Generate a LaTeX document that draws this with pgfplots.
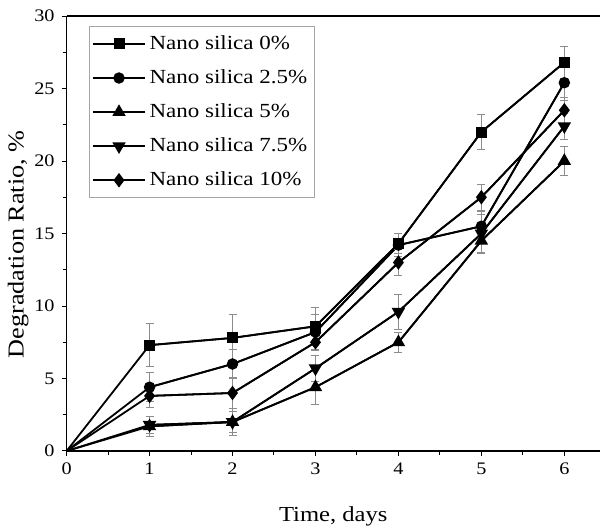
\documentclass[border=0pt]{standalone}
\usepackage{fontspec}
\setmainfont{Liberation Serif}[FakeStretch=1.15]
\usepackage{pgfplots}
\usepackage{pgfplotstable}
\pgfplotsset{compat=1.18}

% day, ratio (%), error
\pgfplotstableread{
x y e
0 0 0
1 7.3 1.5
2 7.8 1.6
3 8.6 1.3
4 14.3 0.7
5 22.0 1.2
6 26.8 1.1
}\nsA
\pgfplotstableread{
x y e
0 0 0
1 4.4 1.0
2 6.0 1.0
3 8.2 1.2
4 14.2 0.8
5 15.5 1.0
6 25.4 1.2
}\nsB
\pgfplotstableread{
x y e
0 0 0
1 1.7 0.7
2 2.0 0.9
3 4.4 1.2
4 7.5 0.7
5 14.5 0.9
6 20.0 1.0
}\nsC
\pgfplotstableread{
x y e
0 0 0
1 1.8 0.6
2 2.0 0.7
3 5.7 0.9
4 9.6 1.2
5 15.0 1.3
6 22.4 0.9
}\nsD
\pgfplotstableread{
x y e
0 0 0
1 3.8 0.8
2 4.0 1.1
3 7.5 0.6
4 13.0 0.9
5 17.5 0.9
6 23.5 0.9
}\nsE

\begin{document}
\begin{tikzpicture}
\useasboundingbox (-33.3pt,-39.5pt) rectangle (266.7pt,225.5pt);
\begin{axis}[
scale only axis,
width=266.7pt,
height=217.5pt,
xmin=0, xmax=6.43,
ymin=0, ymax=30,
axis lines=left,
axis line style={-, line width=0.6pt},
extra description/.code={\draw[line width=0.6pt] (axis description cs:0,1) -- (axis description cs:1,1);},
xtick={0,1,2,3,4,5,6},
ytick={0,5,10,15,20,25,30},
minor x tick num=1,
minor y tick num=1,
tick align=outside,
major tick length=2.5pt,
minor tick length=2pt,
tick style={black, line width=0.5pt},
/pgf/number format/assume math mode=true,
ticklabel style={font=\fontsize{8.8}{10}\selectfont},
xlabel={Time, days},
ylabel={Degradation Ratio, \%},
xlabel style={font=\fontsize{10.7}{12}\selectfont, at={(axis description cs:0.5,-0.161)}, anchor=base, inner sep=0pt},
ylabel style={font=\fontsize{11.4}{13}\selectfont, at={(axis description cs:-0.0705,0.475)}, anchor=south, inner sep=0pt},
legend style={at={(axis description cs:0.042,0.977)}, anchor=north west,
  draw=gray!70, line width=0.5pt, font=\fontsize{10}{12}\selectfont,
  row sep=4.6pt, inner xsep=1.5pt, inner ysep=2.5pt},
legend cell align=left,
legend image code/.code={\draw[mark repeat=2, mark phase=2] plot coordinates {(0cm,0cm)(0.45cm,0cm)(0.9cm,0cm)};},
every axis plot/.append style={black, line width=0.9pt, mark options={solid, fill=black}},
error bars/error bar style={gray!90, line width=0.5pt},
error bars/error mark options={rotate=90, gray!90, mark size=2pt, line width=0.5pt},
]
% lines from the origin (no marks there)
\addplot[forget plot] table[x=x, y=y] {\nsA};
\addplot[forget plot] table[x=x, y=y] {\nsB};
\addplot[forget plot] table[x=x, y=y] {\nsC};
\addplot[forget plot] table[x=x, y=y] {\nsD};
\addplot[forget plot] table[x=x, y=y] {\nsE};

\addplot[mark=square*, mark size=2.3pt, skip coords between index={0}{1},
  error bars/.cd, y dir=both, y explicit] table[x=x, y=y, y error=e] {\nsA};
\addlegendentry{Nano silica 0\%}
\addplot[mark=*, mark size=2.4pt, skip coords between index={0}{1},
  error bars/.cd, y dir=both, y explicit] table[x=x, y=y, y error=e] {\nsB};
\addlegendentry{Nano silica 2.5\%}
\addplot[mark=triangle*, mark size=3pt, skip coords between index={0}{1},
  error bars/.cd, y dir=both, y explicit] table[x=x, y=y, y error=e] {\nsC};
\addlegendentry{Nano silica 5\%}
\addplot[mark=triangle*, mark size=3pt, mark options={rotate=180}, skip coords between index={0}{1},
  error bars/.cd, y dir=both, y explicit] table[x=x, y=y, y error=e] {\nsD};
\addlegendentry{Nano silica 7.5\%}
\addplot[mark=diamond*, mark size=2.9pt, skip coords between index={0}{1},
  error bars/.cd, y dir=both, y explicit] table[x=x, y=y, y error=e] {\nsE};
\addlegendentry{Nano silica 10\%}
\end{axis}
\end{tikzpicture}
\end{document}
